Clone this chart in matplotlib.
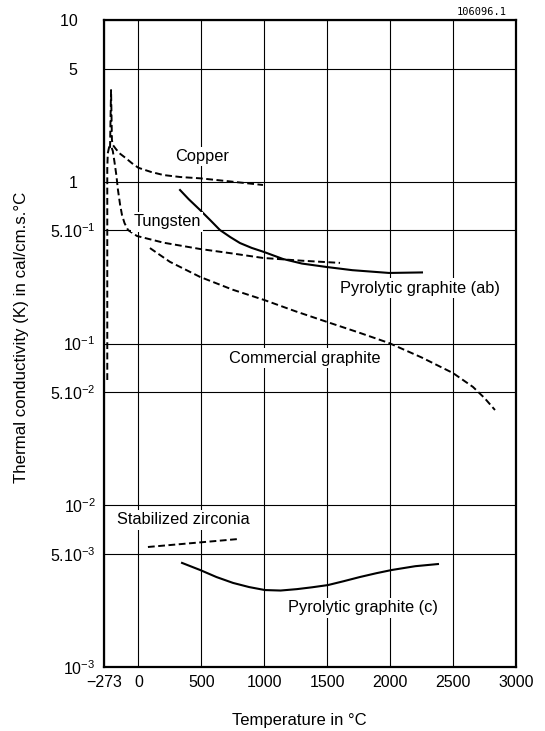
import matplotlib
matplotlib.use("Agg")
from matplotlib import pyplot as plt

plt.rcParams['font.family'] = ['Liberation Sans', 'DejaVu Sans']
plt.rcParams['mathtext.fontset'] = 'custom'
plt.rcParams['mathtext.rm'] = 'Liberation Sans'
plt.rcParams['mathtext.it'] = 'Liberation Sans'

# values (temperature in C, K in cal/cm.s.C)
copper_t = [-225, -217, -210, -203, -180, -150, -100, -50, 0, 100, 200, 331, 490, 700, 990]
copper_k = [1.62, 3.69, 1.81, 1.69, 1.60, 1.50, 1.40, 1.30, 1.22, 1.15, 1.10, 1.07, 1.05, 1.01, 0.955]

tungsten_t = [-247, -247, -243, -232, -217, -203, -190, -175, -162, -145, -130, -110, -82,
              -40, -11, 200, 490, 750, 990, 1300, 1602]
tungsten_k = [0.0595, 1.2, 1.5, 1.64, 1.66, 1.55, 1.33, 1.10, 0.889, 0.72, 0.623, 0.555, 0.503,
              0.478, 0.462, 0.42, 0.384, 0.36, 0.338, 0.325, 0.315]

pg_ab_t = [331, 400, 490, 570, 648, 730, 807, 900, 998, 1149, 1300, 1498, 1700, 1991, 2253]
pg_ab_k = [0.889, 0.78, 0.669, 0.58, 0.503, 0.455, 0.418, 0.39, 0.368, 0.333, 0.312, 0.297,
           0.284, 0.273, 0.275]

comm_t = [92, 250, 490, 750, 998, 1250, 1498, 1750, 1991, 2250, 2499, 2658, 2750, 2833]
comm_k = [0.389, 0.32, 0.258, 0.215, 0.186, 0.158, 0.136, 0.117, 0.1007, 0.082, 0.0657,
          0.0539, 0.046, 0.0388]

zirc_t = [76, 791]
zirc_k = [0.00552, 0.00618]

pg_c_t = [347, 420, 490, 620, 752, 880, 1006, 1130, 1260, 1380, 1506, 1630, 1760, 1890,
          2014, 2200, 2380]
pg_c_k = [0.00440, 0.00418, 0.00398, 0.00360, 0.00331, 0.00312, 0.00299, 0.00297, 0.00303,
          0.00311, 0.00321, 0.00339, 0.00360, 0.00380, 0.00398, 0.00420, 0.00433]

xticks = [-273, 0, 500, 1000, 1500, 2000, 2500, 3000]
xlabels = ['\u2212273', '0', '500', '1000', '1500', '2000', '2500', '3000']
yticks = [1e-3, 5e-3, 1e-2, 5e-2, 1e-1, 5e-1, 1, 5, 10]
ylabels = [r'10$^{-3}$', r'5.10$^{-3}$', r'10$^{-2}$', r'5.10$^{-2}$', r'10$^{-1}$',
           r'5.10$^{-1}$', '1    ', '5    ', '10    ']

fig = plt.figure(figsize=(5.45, 7.31), dpi=100)
ax = fig.add_axes([104/545, 1-667/731, 412/545, 647/731])

ax.set_yscale('log')
ax.set_xlim(-273, 3000)
ax.set_ylim(1e-3, 10)
ax.set_xticks(xticks)
ax.set_xticklabels(xlabels, fontsize=11.5)
ax.set_yticks(yticks)
ax.set_yticklabels(ylabels, fontsize=11.5)
ax.minorticks_off()
ax.tick_params(length=0, pad=6)
ax.grid(True, color='black', linewidth=0.8)
for s in ax.spines.values():
    s.set_linewidth(1.6)

dash = (0, (3.5, 1.8))
ax.plot(copper_t, copper_k, color='black', lw=1.4, linestyle=dash, zorder=3)
ax.plot(tungsten_t, tungsten_k, color='black', lw=1.4, linestyle=dash, zorder=3)
ax.plot(pg_ab_t, pg_ab_k, color='black', lw=1.5, zorder=3)
ax.plot(comm_t, comm_k, color='black', lw=1.4, linestyle=dash, zorder=3)
ax.plot(zirc_t, zirc_k, color='black', lw=1.4, linestyle=dash, zorder=3)
ax.plot(pg_c_t, pg_c_k, color='black', lw=1.5, zorder=3)

box = dict(facecolor='white', edgecolor='none', pad=1.5)
fs = 11.8
ax.text(508, 1.44, 'Copper', fontsize=fs, ha='center', va='center', bbox=box, zorder=4)
ax.text(227, 0.564, 'Tungsten', fontsize=fs, ha='center', va='center', bbox=box, zorder=4)
ax.text(2238, 0.220, 'Pyrolytic graphite (ab)', fontsize=fs, ha='center', va='center', bbox=box, zorder=4)
ax.text(1324, 0.0813, 'Commercial graphite', fontsize=fs, ha='center', va='center', bbox=box, zorder=4)
ax.text(355, 0.00811, 'Stabilized zirconia', fontsize=fs, ha='center', va='center', bbox=box, zorder=4)
ax.text(1784, 0.00232, 'Pyrolytic graphite (c)', fontsize=fs, ha='center', va='center', bbox=box, zorder=4)

fig.text(22/545, 1-337/731, 'Thermal conductivity (K) in cal/cm.s.\u00b0C',
         rotation=90, fontsize=12.2, ha='center', va='center')
fig.text(299/545, 1-720/731, 'Temperature in \u00b0C', fontsize=12, ha='center', va='center')
fig.text(482/545, 1-12/731, '106096.1', fontsize=7.5, family='DejaVu Sans Mono',
         ha='center', va='center')

plt.savefig('out.png', dpi=100)
plt.close('all')
